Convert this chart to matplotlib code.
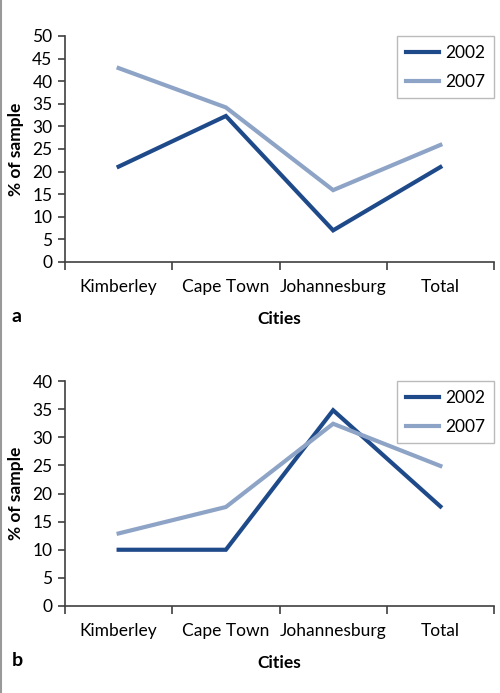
import numpy as np
import matplotlib.pyplot as plt
from matplotlib.lines import Line2D

plt.rcParams['font.family'] = ['Lato', 'DejaVu Sans']

cities = ['Kimberley', 'Cape Town', 'Johannesburg', 'Total']
years = ['2002', '2007']

# panel a
a_2002 = [21.1, 32.3, 7.0, 21.0]
a_2007 = [42.9, 34.2, 15.9, 25.9]
# panel b
b_2002 = [10.0, 10.0, 34.8, 17.7]
b_2007 = [12.9, 17.6, 32.4, 24.9]

dark = '#1f4a8a'
light = '#8ea4c6'
axis_col = '#404040'

fig = plt.figure(figsize=(5.0, 6.93), dpi=100)
W, H = 500, 693


def px_axes(left, top, right, bottom):
    return fig.add_axes([left / W, 1 - bottom / H, (right - left) / W, (bottom - top) / H])


def draw_panel(ax, s02, s07, ymax, letter):
    x = np.arange(len(cities))
    ax.plot(x, s02, color=dark, lw=3, solid_joinstyle='miter')
    ax.plot(x, s07, color=light, lw=3, solid_joinstyle='miter')
    ax.set_xlim(-0.5, len(cities) - 0.5)
    ax.set_ylim(0, ymax)
    ax.set_yticks(np.arange(0, ymax + 1, 5))
    ax.set_xticks(np.arange(-0.5, len(cities), 1.0))
    ax.set_xticklabels([])
    ax.set_xticks(x, minor=True)
    ax.set_xticklabels(cities, minor=True)
    ax.tick_params(axis='x', which='minor', length=0, pad=12, labelsize=12.5)
    ax.tick_params(axis='x', which='major', length=6, width=1.2, color=axis_col, direction='out')
    ax.tick_params(axis='y', length=5, width=1.2, color=axis_col, labelsize=12.5, pad=4)
    for s in ['top', 'right']:
        ax.spines[s].set_visible(False)
    for s in ['left', 'bottom']:
        ax.spines[s].set_color(axis_col)
        ax.spines[s].set_linewidth(1.2)
    ax.set_xlabel('Cities', fontsize=12.5, fontweight='bold', labelpad=12)
    ax.set_ylabel('% of sample', fontsize=12.5, fontweight='bold', labelpad=6)
    handles = [Line2D([], [], color=dark, lw=3), Line2D([], [], color=light, lw=3)]
    leg = ax.legend(handles, years, loc='upper right', bbox_to_anchor=(1.0, 1.0),
                    borderaxespad=0, frameon=True, fancybox=False, fontsize=12.5,
                    handlelength=1.9, labelspacing=0.75, borderpad=0.5,
                    handletextpad=0.35)
    leg.get_frame().set_edgecolor('#aaaaaa')
    leg.get_frame().set_linewidth(1.0)
    ax.text(-0.125, -0.24, letter, transform=ax.transAxes, fontsize=14,
            fontweight='bold', ha='left', va='center')


ax_a = px_axes(65, 36, 494, 262)
draw_panel(ax_a, a_2002, a_2007, 50, 'a')

ax_b = px_axes(65, 381, 494, 606)
draw_panel(ax_b, b_2002, b_2007, 40, 'b')

# thin frame line on the left edge
fig.add_artist(Line2D([0.001, 0.001], [0, 1], transform=fig.transFigure,
                      color='#999999', lw=1.5))

fig.savefig('out.png', dpi=100)
